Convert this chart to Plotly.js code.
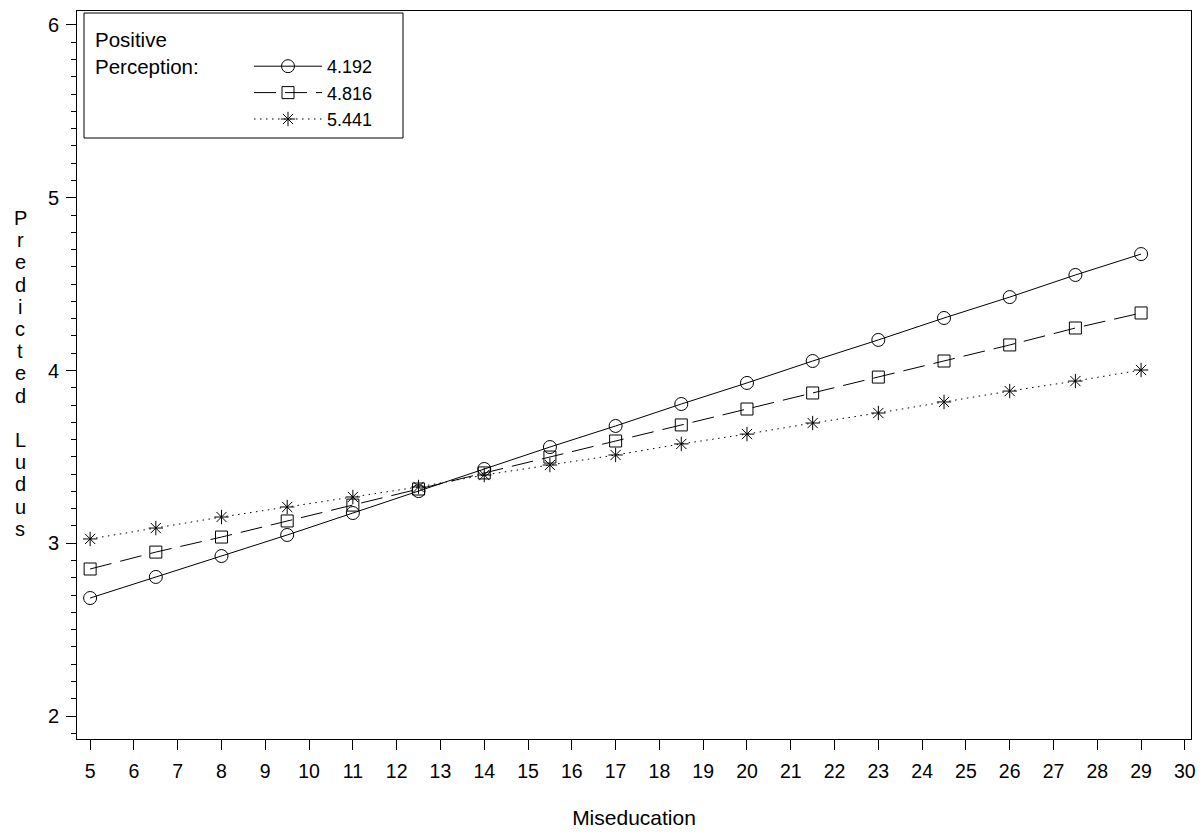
<!DOCTYPE html>
<html>
<head>
<meta charset="utf-8">
<script src="https://cdn.plot.ly/plotly-3.0.1.min.js"></script>
<style>html,body{margin:0;padding:0;background:#fff;}#chart{width:1201px;height:837px;}</style>
</head>
<body>
<div id="chart"></div>
<script>
const miseducation = [5, 6.5, 8, 9.5, 11, 12.5, 14, 15.5, 17, 18.5, 20, 21.5, 23, 24.5, 26, 27.5, 29];
const lowPerception = [2.683, 2.805, 2.926, 3.048, 3.175, 3.302, 3.430, 3.557, 3.679, 3.806, 3.928, 4.055, 4.177, 4.304, 4.425, 4.553, 4.674];
const midPerception = [2.851, 2.949, 3.036, 3.129, 3.221, 3.314, 3.407, 3.499, 3.592, 3.685, 3.777, 3.870, 3.962, 4.055, 4.148, 4.246, 4.333];
const highPerception = [3.025, 3.088, 3.152, 3.210, 3.268, 3.326, 3.395, 3.453, 3.511, 3.575, 3.632, 3.696, 3.754, 3.818, 3.881, 3.939, 4.003];
const seriesNames = ["4.192", "4.816", "5.441"];
const legendTitle = "Positive<br>Perception:";
const xTicks = [5,6,7,8,9,10,11,12,13,14,15,16,17,18,19,20,21,22,23,24,25,26,27,28,29,30];
const yTicks = [2, 3, 4, 5, 6];
const xTitle = "Miseducation";
const yTitle = "Predicted Ludus";

const FONT = "Liberation Sans, Arial, sans-serif";
const W = 1201, H = 837;
const M = {l: 77, r: 10, t: 11, b: 98};
const PW = W - M.l - M.r, PH = H - M.t - M.b;
const px2x = p => (p - M.l) / PW;
const py2y = p => (H - M.b - p) / PH;

const traces = [
  {x: miseducation, y: lowPerception, name: seriesNames[0], mode: "lines+markers",
   line: {color: "#000", width: 1, dash: "solid"},
   marker: {symbol: "circle-open", size: 13, color: "#000", line: {width: 1, color: "#000"}}},
  {x: miseducation, y: midPerception, name: seriesNames[1], mode: "lines+markers",
   line: {color: "#000", width: 1, dash: "22px,9px"},
   marker: {symbol: "square-open", size: 12, color: "#000", line: {width: 1, color: "#000"}}},
  {x: miseducation, y: highPerception, name: seriesNames[2], mode: "lines+markers",
   line: {color: "#000", width: 1, dash: "1.5px,4.5px"},
   marker: {symbol: "asterisk-open", size: 12, color: "#000", line: {width: 1, color: "#000"}}}
];

// vertical stacked y-axis title, one letter per line
const letters = yTitle.split("");
const letterStep = 22.2, firstLetterY = 218;
const titleAnnotations = letters.map((c, i) => ({
  text: c === " " ? "&nbsp;" : c, xref: "paper", yref: "paper",
  x: px2x(20), y: py2y(firstLetterY + i * letterStep), xanchor: "center", yanchor: "middle",
  showarrow: false, font: {family: FONT, size: 20, color: "#000"}
}));

const layout = {
  width: W, height: H,
  margin: M,
  paper_bgcolor: "#fff", plot_bgcolor: "#fff",
  font: {family: FONT, size: 20, color: "#000"},
  showlegend: true,
  xaxis: {
    range: [4.70, 30.14], tickvals: xTicks, ticktext: xTicks.map(String),
    ticks: "outside", ticklen: 10, tickwidth: 1, tickcolor: "#000",
    showline: true, linecolor: "#000", linewidth: 1, mirror: true,
    showgrid: false, zeroline: false, ticklabelstandoff: 5,
    tickfont: {family: FONT, size: 19.5, color: "#000"},
    title: {text: xTitle, font: {family: FONT, size: 21, color: "#000"}, standoff: 28}
  },
  yaxis: {
    range: [1.867, 6.081], tickvals: yTicks, ticktext: yTicks.map(String),
    ticks: "outside", ticklen: 10, tickwidth: 1, tickcolor: "#000",
    minor: {dtick: 0.1, ticks: "outside", ticklen: 5, tickwidth: 1, tickcolor: "#000", showgrid: false},
    showline: true, linecolor: "#000", linewidth: 1, mirror: true,
    showgrid: false, zeroline: false, ticklabelstandoff: 3,
    tickfont: {family: FONT, size: 20, color: "#000"}
  },
  legend: {
    x: px2x(249), y: py2y(48), xanchor: "left", yanchor: "top",
    borderwidth: 0, bgcolor: "rgba(0,0,0,0)",
    font: {family: FONT, size: 18, color: "#000"},
    itemwidth: 68, tracegroupgap: 0
  },
  shapes: [{
    type: "rect", xref: "paper", yref: "paper",
    x0: px2x(84), x1: px2x(403), y0: py2y(138), y1: py2y(13),
    line: {color: "#000", width: 1}, fillcolor: "rgba(0,0,0,0)", layer: "above"
  }],
  annotations: titleAnnotations.concat([{
    text: legendTitle, xref: "paper", yref: "paper",
    x: px2x(93), y: py2y(53), xanchor: "left", yanchor: "middle", align: "left",
    showarrow: false, font: {family: FONT, size: 20.5, color: "#000"}
  }])
};

Plotly.newPlot("chart", traces, layout, {displayModeBar: false, staticPlot: true});
</script>
</body>
</html>
